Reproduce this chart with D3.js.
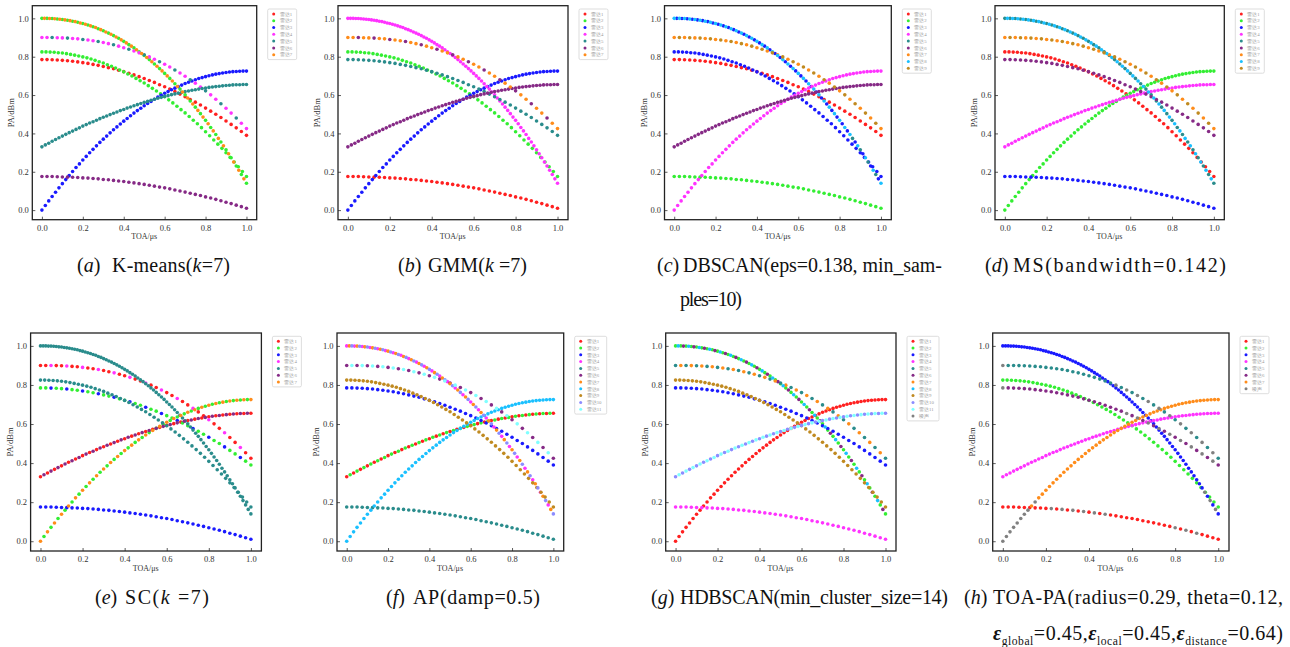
<!DOCTYPE html>
<html>
<head>
<meta charset="utf-8">
<script src="https://cdn.jsdelivr.net/npm/d3@7"></script>
<style>
body { margin: 0; background: #fff; }
svg { display: block; }
text { font-family: "Liberation Serif", "Times New Roman", serif; }
</style>
</head>
<body>
<div id="chart"></div>
<script>
// PA values of the seven pulse trains, pulses evenly spaced over TOA 0..1 us
var paCurve1 = [1.000,1.000,1.000,0.999,0.999,0.998,0.997,0.995,0.994,0.992,
  0.990,0.988,0.985,0.983,0.980,0.976,0.973,0.969,0.965,0.961,
  0.956,0.952,0.946,0.941,0.935,0.929,0.923,0.917,0.910,0.903,
  0.896,0.888,0.880,0.872,0.863,0.855,0.846,0.836,0.826,0.817,
  0.806,0.796,0.785,0.774,0.762,0.750,0.738,0.726,0.713,0.700,
  0.687,0.673,0.659,0.645,0.631,0.616,0.601,0.585,0.569,0.553,
  0.537,0.520,0.503,0.485,0.468,0.450,0.431,0.413,0.394,0.374,
  0.355,0.335,0.315,0.294,0.273,0.251,0.230,0.208,0.186,0.163,0.140];
var paCurve2 = [0.900,0.900,0.900,0.899,0.898,0.897,0.895,0.893,0.890,0.887,
  0.883,0.879,0.874,0.868,0.862,0.855,0.847,0.839,0.830,0.820,
  0.810,0.799,0.787,0.774,0.761,0.746,0.731,0.715,0.698,0.680,
  0.662,0.642,0.622,0.601,0.578,0.555,0.531,0.506,0.480,0.453,0.425];
var paCurve3 = [0.825,0.825,0.824,0.823,0.821,0.819,0.816,0.812,0.808,0.804,
  0.799,0.794,0.788,0.781,0.774,0.767,0.758,0.750,0.741,0.731,
  0.721,0.710,0.699,0.687,0.675,0.663,0.649,0.635,0.621,0.606,
  0.591,0.575,0.559,0.542,0.524,0.507,0.488,0.469,0.450,0.430,
  0.409,0.388,0.366,0.344,0.322,0.299,0.275,0.251,0.226,0.201,0.175];
var paCurve4 = [0.785,0.785,0.784,0.783,0.781,0.779,0.776,0.773,0.769,0.765,
  0.760,0.755,0.749,0.743,0.737,0.729,0.722,0.714,0.705,0.696,
  0.686,0.676,0.666,0.654,0.643,0.631,0.618,0.605,0.591,0.577,
  0.563,0.548,0.532,0.516,0.500,0.483,0.465,0.447,0.429,0.410,0.390];
var paCurve5 = [0.330,0.340,0.349,0.359,0.368,0.377,0.386,0.395,0.404,0.412,
  0.421,0.429,0.438,0.446,0.454,0.461,0.469,0.477,0.484,0.491,
  0.498,0.505,0.512,0.519,0.525,0.532,0.538,0.544,0.550,0.556,
  0.562,0.567,0.573,0.578,0.583,0.588,0.593,0.597,0.602,0.606,
  0.610,0.614,0.618,0.621,0.625,0.628,0.631,0.634,0.637,0.640,
  0.642,0.644,0.646,0.648,0.650,0.651,0.653,0.654,0.654,0.655,0.655];
var paCurve6 = [0.000,0.024,0.048,0.071,0.093,0.116,0.138,0.159,0.180,0.201,
  0.222,0.241,0.261,0.280,0.299,0.317,0.335,0.353,0.370,0.386,
  0.403,0.419,0.434,0.449,0.464,0.478,0.492,0.506,0.519,0.531,
  0.544,0.556,0.567,0.578,0.589,0.599,0.609,0.618,0.628,0.636,
  0.644,0.652,0.660,0.667,0.673,0.680,0.686,0.691,0.696,0.701,
  0.705,0.709,0.712,0.715,0.718,0.720,0.722,0.723,0.724,0.725,0.725];
var paCurve7 = [0.175,0.175,0.175,0.174,0.173,0.172,0.171,0.170,0.168,0.167,
  0.165,0.163,0.160,0.158,0.155,0.152,0.149,0.145,0.142,0.138,
  0.134,0.130,0.125,0.120,0.116,0.111,0.105,0.100,0.094,0.088,
  0.082,0.076,0.069,0.063,0.056,0.049,0.041,0.034,0.026,0.018,0.010];
var curves = [paCurve1, paCurve2, paCurve3, paCurve4, paCurve5, paCurve6, paCurve7];

var radarNames = ["雷达1","雷达2","雷达3","雷达4","雷达5","雷达6","雷达7","雷达8","雷达9","雷达10","雷达11"];
var noiseName = "噪声";
var radarColors = ["#ff2020","#33ee33","#1a1aff","#ff33ff","#2a8c8c","#862a86","#ff8c1a","#1ac0ff","#c08a20","#8c8cff","#80ffff"];
var noiseColor = "#808080";
var xTicks = [0.0, 0.2, 0.4, 0.6, 0.8, 1.0];
var yTicks = [0.0, 0.2, 0.4, 0.6, 0.8, 1.0];

// cluster labels per curve: [fromTOA, toTOA, repeating label pattern], 0 = noise
var labelsKmeans = [[[0,1,[2,7]]],[[0,1,[4,4,5]]],[[0,1,[2]]],[[0,1,[1]]],[[0,1,[5]]],[[0,1,[3]]],[[0,1,[6]]]];
var labelsGmm = [[[0,1,[4]]],[[0,1,[7,7,6]]],[[0,1,[2]]],[[0,1,[5]]],[[0,1,[6]]],[[0,1,[3]]],[[0,1,[1]]]];
var labelsDbscan = [[[0,0.85,[8,3]],[0.85,1,[5,3,8]]],[[0,1,[7,9]]],[[0,1,[3]]],[[0,1,[1]]],[[0,1,[6]]],[[0,1,[4]]],[[0,1,[2]]]];
var labelsMs = [[[0,1,[5,8]]],[[0,1,[7,9]]],[[0,1,[1]]],[[0,1,[6]]],[[0,1,[4]]],[[0,1,[2]]],[[0,1,[3]]]];
var labelsSc = [[[0,1,[5]]],[[0,1,[1,1,4]]],[[0,1,[5]]],[[0,1,[2,2,3]]],[[0,1,[1,6]]],[[0,1,[7,2]]],[[0,1,[3]]]];
var labelsAp = [[[0,1,[4,7,10]]],[[0,1,[6,11]]],[[0,1,[9]]],[[0,1,[3]]],[[0,1,[1,2]]],[[0,1,[8]]],[[0,1,[5]]]];
var labelsHdbscan = [[[0,1,[2,8,2,6]]],[[0,1,[5,7]]],[[0,1,[9]]],[[0,1,[3]]],[[0,1,[10,11]]],[[0,1,[1]]],[[0,1,[4]]]];
var labelsToaPa = [
  [[0,0.92,[3]],[0.92,1,[3,0]]],
  [[0,0.01,[0]],[0.01,0.5,[5]],[0.5,1,[5,0]]],
  [[0,1,[2]]],
  [[0,0.01,[0]],[0.01,0.55,[6]],[0.55,1,[6,0]]],
  [[0,1,[4]]],
  [[0,0.12,[0]],[0.12,0.18,[7,0]],[0.18,1,[7]]],
  [[0,0.2,[1]],[0.2,0.5,[1,0]],[0.5,0.75,[1]],[0.75,0.92,[0,1]],[0.92,1,[1]]]
];

var panels = [
  {left:32.3, right:256.7, top:5.7, bottom:219.7, labels:labelsKmeans, nRadar:7, noise:false},
  {left:338, right:568, top:5.7, bottom:219.7, labels:labelsGmm, nRadar:7, noise:false},
  {left:664.5, right:891.3, top:5.7, bottom:219.7, labels:labelsDbscan, nRadar:9, noise:false},
  {left:995, right:1224.3, top:5.7, bottom:219.7, labels:labelsMs, nRadar:9, noise:false},
  {left:30.6, right:261.4, top:333, bottom:551, labels:labelsSc, nRadar:7, noise:false},
  {left:337, right:563.7, top:333, bottom:551, labels:labelsAp, nRadar:11, noise:false},
  {left:665.7, right:896, top:333, bottom:551, labels:labelsHdbscan, nRadar:11, noise:true},
  {left:992.7, right:1229, top:333, bottom:551, labels:labelsToaPa, nRadar:7, noise:true}
];

var captions = [
  {tag:"a", lx:77, mx:112, y:272, w:118, parts:[["K-means("],["k","i"],["=7)"]]},
  {tag:"b", lx:398, mx:428, y:272, w:99, parts:[["GMM("],["k","i"],[" =7)"]]},
  {tag:"c", lx:657, mx:683, y:272, w:259, parts:[["DBSCAN(eps=0.138, min_sam-"]],
    extra:{x:680, y:306, w:62, parts:[["ples=10)"]]}},
  {tag:"d", lx:985, mx:1013, y:272, w:213, parts:[["MS(bandwidth=0.142)"]]},
  {tag:"e", lx:95, mx:125, y:604, w:84, parts:[["SC("],["k","i"],[" =7)"]]},
  {tag:"f", lx:386, mx:413, y:604, w:127, parts:[["AP(damp=0.5)"]]},
  {tag:"g", lx:651, mx:680, y:604, w:268, parts:[["HDBSCAN(min_cluster_size=14)"]]},
  {tag:"h", lx:964, mx:993, y:604, w:290, parts:[["TOA-PA(radius=0.29, theta=0.12,"]],
    extra:{x:993, y:640, w:290, parts:[["ε","e"],["global","s"],["=0.45,"],["ε","e"],["local","s"],["=0.45,"],["ε","e"],["distance","s"],["=0.64)"]]}}
];

var svg = d3.select("#chart").append("svg")
            .attr("width", 1290)
            .attr("height", 647);

function labelFor(segs, t, i) {
  for (var s = 0; s < segs.length; s++) {
    if (t >= segs[s][0] - 1e-9 && t <= segs[s][1] + 1e-9) {
      var pat = segs[s][2];
      return pat[i % pat.length];
    }
  }
  return segs[segs.length - 1][2][0];
}
function colorOf(lab) { return lab === 0 ? noiseColor : radarColors[lab - 1]; }

panels.forEach(function(p) {
  var g = svg.append("g");
  var x = d3.scaleLinear().domain([-0.047, 1.05]).range([p.left, p.right]);
  var y = d3.scaleLinear().domain([-0.05, 1.066]).range([p.bottom, p.top]);

  var xAxis = g.append("g")
               .attr("transform", `translate(0, ${p.bottom})`)
               .call(d3.axisBottom(x).tickValues(xTicks).tickFormat(d3.format(".1f"))
                       .tickSizeInner(-3).tickSizeOuter(0).tickPadding(5));
  var yAxis = g.append("g")
               .attr("transform", `translate(${p.left}, 0)`)
               .call(d3.axisLeft(y).tickValues(yTicks).tickFormat(d3.format(".1f"))
                       .tickSizeInner(-3).tickSizeOuter(0).tickPadding(3.5));
  [xAxis, yAxis].forEach(function(a) {
    a.select(".domain").remove();
    a.selectAll("line").attr("stroke", "#333").attr("stroke-width", 0.8);
    a.selectAll("text").attr("font-size", 8.5).attr("fill", "#333")
     .attr("font-family", "'Liberation Serif', serif");
  });

  var pts = [];
  curves.forEach(function(c, ci) {
    var n = c.length;
    c.forEach(function(v, i) {
      var t = i / (n - 1);
      pts.push({toa: t, pa: v, lab: labelFor(p.labels[ci], t, i)});
    });
  });
  var order = function(lab) { return lab === 0 ? 99 : lab; };
  pts.sort(function(a, b) { return order(a.lab) - order(b.lab); });

  g.selectAll("circle.pt")
   .data(pts)
   .enter()
   .append("circle")
   .attr("class", "pt")
   .attr("cx", d => x(d.toa))
   .attr("cy", d => y(d.pa))
   .attr("r", 1.8)
   .attr("fill", d => colorOf(d.lab));

  g.append("rect")
   .attr("x", p.left).attr("y", p.top)
   .attr("width", p.right - p.left).attr("height", p.bottom - p.top)
   .attr("fill", "none").attr("stroke", "#222").attr("stroke-width", 1.3);

  g.append("text")
   .attr("x", x(0.5))
   .attr("y", p.bottom + 19.5)
   .attr("text-anchor", "middle")
   .attr("font-size", 8)
   .attr("fill", "#333")
   .text("TOA/μs");

  g.append("text")
   .attr("transform", `translate(${p.left - 18}, ${(p.top + p.bottom) / 2}) rotate(-90)`)
   .attr("text-anchor", "middle")
   .attr("font-size", 8.5)
   .attr("fill", "#333")
   .text("PA/dBm");

  // legend
  var items = d3.range(1, p.nRadar + 1);
  if (p.noise) items.push(0);
  var lx = p.right + 11, ly = p.top + 3.3;
  var lw = p.nRadar > 9 ? 32 : 29;
  var legend = g.append("g");
  legend.append("rect")
        .attr("x", lx).attr("y", ly)
        .attr("width", lw).attr("height", items.length * 6.8 + 3)
        .attr("rx", 1.5)
        .attr("fill", "#fff").attr("stroke", "#d4d4d4").attr("stroke-width", 0.8);
  items.forEach(function(lab, i) {
    var cy = ly + 4.9 + i * 6.8;
    legend.append("circle").attr("cx", lx + 6).attr("cy", cy).attr("r", 1.5).attr("fill", colorOf(lab));
    legend.append("text")
          .attr("x", lx + 12).attr("y", cy + 1.7)
          .attr("font-size", 4.8)
          .attr("fill", "#999")
          .attr("font-family", "'Noto Sans CJK SC', sans-serif")
          .text(lab === 0 ? noiseName : radarNames[lab - 1]);
  });
});

// captions
var capSize = 20;
function captionText(xPos, yPos, width) {
  var t = svg.append("text")
             .attr("x", xPos).attr("y", yPos)
             .attr("font-size", capSize)
             .attr("font-family", "'Liberation Serif', 'Times New Roman', serif")
             .attr("fill", "#111");
  if (width) t.attr("textLength", width).attr("lengthAdjust", "spacing");
  return t;
}
function addParts(textSel, parts) {
  var prevSub = false;
  parts.forEach(function(part) {
    var ts = textSel.append("tspan").text(part[0]);
    var isSub = part[1] === "s";
    if (part[1] === "i") ts.attr("font-style", "italic");
    if (part[1] === "e") ts.attr("font-style", "italic").attr("font-weight", "bold");
    if (isSub) ts.attr("font-size", capSize * 0.58).attr("dy", 5);
    else if (prevSub) ts.attr("dy", -5);
    prevSub = isSub;
  });
}
captions.forEach(function(c) {
  var lt = captionText(c.lx, c.y);
  lt.append("tspan").text("(");
  lt.append("tspan").attr("font-style", "italic").text(c.tag);
  lt.append("tspan").text(")");
  addParts(captionText(c.mx, c.y, c.w), c.parts);
  if (c.extra) {
    addParts(captionText(c.extra.x, c.extra.y, c.extra.w), c.extra.parts);
  }
});
</script>
</body>
</html>
